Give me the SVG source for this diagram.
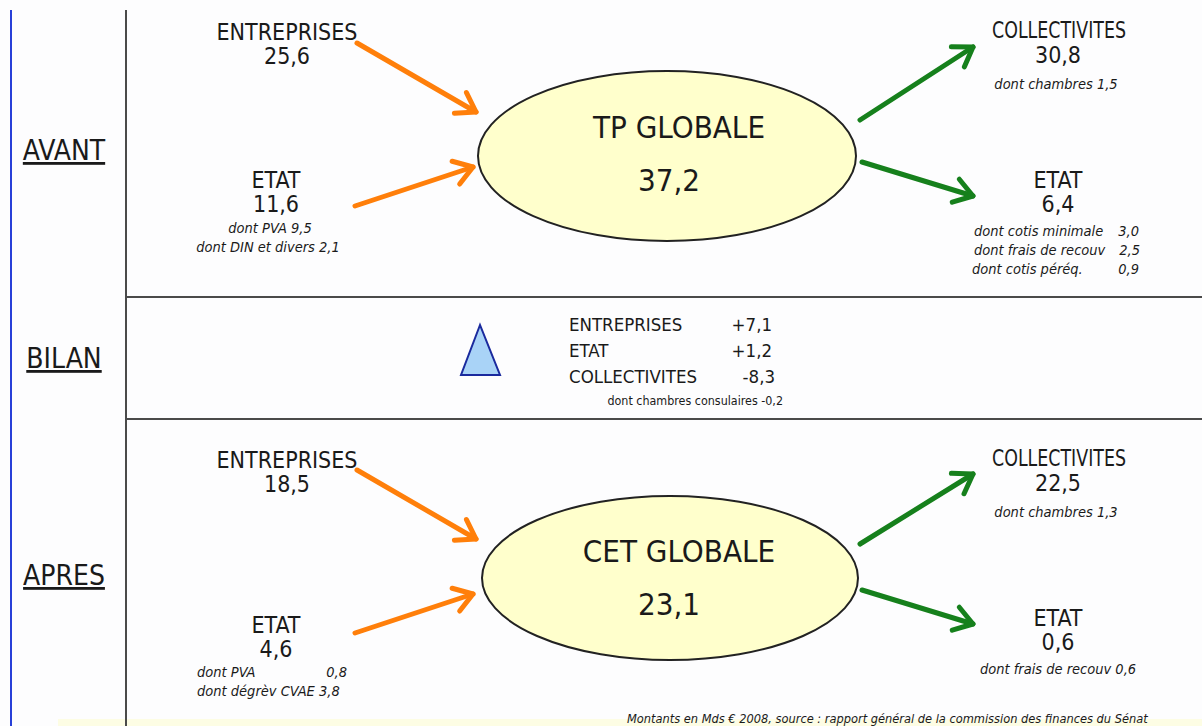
<svg xmlns="http://www.w3.org/2000/svg" width="1202" height="726" viewBox="0 0 1202 726">
<style>
text{font-family:"Liberation Sans Narrow","DejaVu Sans Condensed","Liberation Sans",sans-serif;fill:#1a1a1a}
.big{font-size:23px;text-anchor:middle}
.sm{font-size:14.5px;font-style:italic}
.c{text-anchor:middle}
.r{text-anchor:end}
.lab{font-size:28px;text-decoration:underline;text-anchor:middle}
.title{font-size:31px;text-anchor:middle}
.bil{font-size:18.5px}
.or{stroke:#ff7f0a;stroke-width:5;fill:none;stroke-linecap:round}
.gr{stroke:#16801c;stroke-width:5;fill:none;stroke-linecap:round}
.ell{fill:#ffffcc;stroke:#222;stroke-width:2}
.sep{stroke:#4a4a4a;stroke-width:2}
</style>
<defs>
<marker id="ao" markerUnits="userSpaceOnUse" viewBox="-25 -15 30 30" markerWidth="30" markerHeight="30" refX="0" refY="0" orient="auto">
<path d="M-18,-12 L0,0 L-18,12" fill="none" stroke="#ff7f0a" stroke-width="5" stroke-linecap="round" stroke-linejoin="round"/>
</marker>
<marker id="ag" markerUnits="userSpaceOnUse" viewBox="-25 -15 30 30" markerWidth="30" markerHeight="30" refX="0" refY="0" orient="auto">
<path d="M-18,-12 L0,0 L-18,12" fill="none" stroke="#16801c" stroke-width="5" stroke-linecap="round" stroke-linejoin="round"/>
</marker>
</defs>
<rect width="1202" height="726" fill="#fdfdfe"/>
<rect x="58" y="719" width="1144" height="7" fill="#fdfde4"/>
<g id="frame">
<line x1="11" y1="10" x2="11" y2="726" stroke="#2840d8" stroke-width="2"/>
<line class="sep" x1="126" y1="10" x2="126" y2="726"/>
<line class="sep" x1="126" y1="297" x2="1202" y2="297"/>
<line class="sep" x1="126" y1="419" x2="1202" y2="419"/>
</g>
<g id="labels">
<text class="lab" x="64" y="160">AVANT</text>
<text class="lab" x="64" y="368">BILAN</text>
<text class="lab" x="64" y="585">APRES</text>
</g>
<g id="connectors">
<line class="or" x1="357" y1="43" x2="476" y2="112" marker-end="url(#ao)"/>
<line class="or" x1="355" y1="206" x2="473" y2="167" marker-end="url(#ao)"/>
<line class="gr" x1="860" y1="120" x2="973" y2="47" marker-end="url(#ag)"/>
<line class="gr" x1="862" y1="162" x2="973" y2="196" marker-end="url(#ag)"/>
<line class="or" x1="357" y1="470" x2="476" y2="539" marker-end="url(#ao)"/>
<line class="or" x1="355" y1="633" x2="473" y2="594" marker-end="url(#ao)"/>
<line class="gr" x1="860" y1="544" x2="973" y2="474" marker-end="url(#ag)"/>
<line class="gr" x1="862" y1="590" x2="973" y2="624" marker-end="url(#ag)"/>
</g>
<g id="tp-globale">
<ellipse class="ell" cx="667" cy="156" rx="189" ry="85"/>
<text class="title" x="679" y="138">TP GLOBALE</text>
<text class="title" x="669" y="191">37,2</text>
</g>
<g id="avant-entreprises">
<text class="big" x="287" y="40">ENTREPRISES</text>
<text class="big" x="287" y="64">25,6</text>
</g>
<g id="avant-etat">
<text class="big" x="276" y="188">ETAT</text>
<text class="big" x="276" y="212">11,6</text>
<text class="sm c" x="270" y="233">dont PVA 9,5</text>
<text class="sm c" x="268" y="252">dont DIN et divers 2,1</text>
</g>
<g id="avant-collectivites">
<text class="big" x="1059" y="38" textLength="134" lengthAdjust="spacingAndGlyphs">COLLECTIVITES</text>
<text class="big" x="1058" y="63">30,8</text>
<text class="sm c" x="1056" y="89">dont chambres 1,5</text>
</g>
<g id="avant-etat-out">
<text class="big" x="1058" y="188">ETAT</text>
<text class="big" x="1058" y="212">6,4</text>
<text class="sm" x="974" y="236">dont cotis minimale</text>
<text class="sm r" x="1139" y="236">3,0</text>
<text class="sm" x="974" y="255">dont frais de recouv</text>
<text class="sm r" x="1140" y="255">2,5</text>
<text class="sm" x="972" y="274">dont cotis péréq.</text>
<text class="sm r" x="1139" y="274">0,9</text>
</g>
<g id="bilan">
<polygon points="480,325 461,375 500,375" fill="#a9d3f7" stroke="#1a2a9e" stroke-width="2"/>
<text class="bil" x="569" y="331">ENTREPRISES</text>
<text class="bil r" x="772" y="331">+7,1</text>
<text class="bil" x="569" y="357">ETAT</text>
<text class="bil r" x="772" y="357">+1,2</text>
<text class="bil" x="569" y="383">COLLECTIVITES</text>
<text class="bil r" x="775" y="383">-8,3</text>
<text x="783" y="405" font-size="12.4" text-anchor="end">dont chambres consulaires -0,2</text>
</g>
<g id="cet-globale">
<ellipse class="ell" cx="670" cy="578" rx="188" ry="82"/>
<text class="title" x="679" y="562">CET GLOBALE</text>
<text class="title" x="669" y="615">23,1</text>
</g>
<g id="apres-entreprises">
<text class="big" x="287" y="468">ENTREPRISES</text>
<text class="big" x="287" y="492">18,5</text>
</g>
<g id="apres-etat">
<text class="big" x="276" y="633">ETAT</text>
<text class="big" x="276" y="657">4,6</text>
<text class="sm" x="197" y="677">dont PVA</text>
<text class="sm r" x="347" y="677">0,8</text>
<text class="sm" x="197" y="696">dont dégrèv CVAE 3,8</text>
</g>
<g id="apres-collectivites">
<text class="big" x="1059" y="466" textLength="134" lengthAdjust="spacingAndGlyphs">COLLECTIVITES</text>
<text class="big" x="1058" y="491">22,5</text>
<text class="sm c" x="1056" y="517">dont chambres 1,3</text>
</g>
<g id="apres-etat-out">
<text class="big" x="1058" y="626">ETAT</text>
<text class="big" x="1058" y="650">0,6</text>
<text class="sm c" x="1058" y="674">dont frais de recouv 0,6</text>
</g>
<text x="627" y="723" font-size="12.7" font-style="italic">Montants en Mds € 2008, source : rapport général de la commission des finances du Sénat</text>
</svg>
